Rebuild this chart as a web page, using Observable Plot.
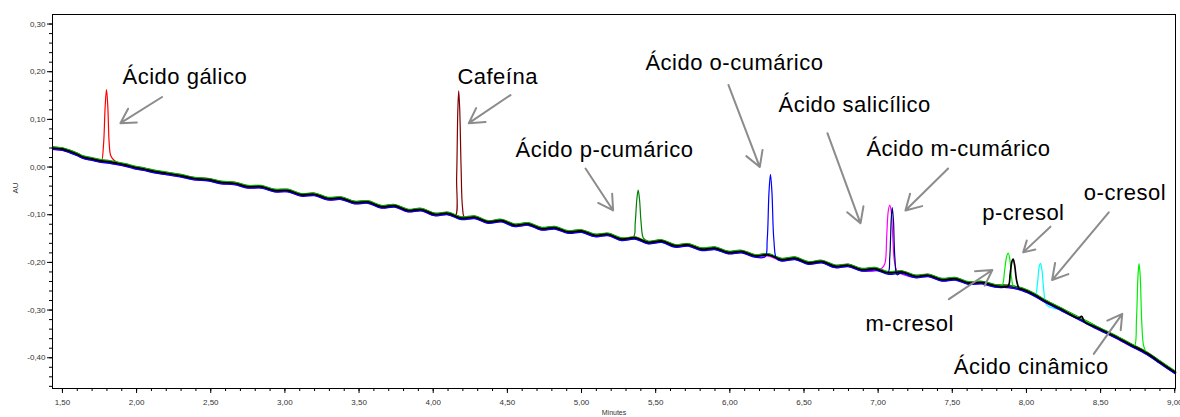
<!DOCTYPE html>
<html><head><meta charset="utf-8">
<script src="https://cdn.jsdelivr.net/npm/d3@7"></script>
<script src="https://cdn.jsdelivr.net/npm/@observablehq/plot@0.6"></script>
<style>body{margin:0;background:#fff;} svg{display:block}</style>
</head><body><div id="chart"></div>
<script>
// Shared drifting baseline (minutes, AU)
const baseT = [1.433,1.50,1.55,1.60,1.64,1.70,1.76,1.82,1.87,1.93,1.98,2.05,2.12,2.20,
  2.30,2.39,2.48,2.57,2.66,2.75,2.84,2.93,3.02,3.11,3.20,3.29,3.38,3.47,3.56,3.65,3.74,3.83,3.92,4.01,
  4.10,4.19,4.28,4.37,4.46,4.55,4.64,4.73,4.82,4.91,5.00,5.09,5.18,5.27,5.36,5.45,5.54,5.63,5.72,5.81,
  5.90,5.99,6.08,6.17,6.26,6.35,6.44,6.53,6.62,6.71,6.80,6.89,6.98,7.07,7.16,7.25,7.34,7.43,7.52,7.61,
  7.70,7.79,7.88,7.97,8.05,8.12,8.24,8.36,8.47,8.59,8.70,8.81,8.90,9.005];
const baseV = [0.040,0.038,0.033,0.027,0.021,0.017,0.013,0.011,0.008,0.004,0.000,-0.004,-0.009,-0.013,
  -0.018,-0.024,-0.026,-0.032,-0.034,-0.041,-0.041,-0.049,-0.049,-0.058,-0.057,-0.066,-0.065,-0.074,-0.073,-0.083,-0.081,-0.091,-0.089,-0.099,
  -0.097,-0.107,-0.105,-0.115,-0.112,-0.122,-0.119,-0.129,-0.127,-0.136,-0.134,-0.143,-0.141,-0.151,-0.148,-0.158,-0.155,-0.165,-0.163,-0.172,
  -0.170,-0.179,-0.177,-0.186,-0.184,-0.194,-0.191,-0.201,-0.198,-0.208,-0.206,-0.215,-0.213,-0.222,-0.220,-0.229,-0.227,-0.236,-0.234,-0.243,
  -0.242,-0.249,-0.250,-0.256,-0.267,-0.280,-0.299,-0.318,-0.336,-0.354,-0.372,-0.390,-0.409,-0.431];

// Peaks [minutes, AU]
const galicoPeak = [[1.765,0.012],[1.778,0.05],[1.788,0.125],[1.797,0.161],[1.806,0.125],[1.815,0.05],[1.826,0.022],[1.85,0.012],[1.878,0.007]];
const cafeinaPeak = [[4.148,-0.102],[4.158,-0.02],[4.166,0.12],[4.172,0.161],[4.179,0.12],[4.188,0.0],[4.198,-0.085],[4.212,-0.105]];
const pCumaricoPeak = [[5.35,-0.149],[5.362,-0.12],[5.373,-0.07],[5.382,-0.051],[5.391,-0.07],[5.402,-0.12],[5.418,-0.152]];
const oCumaricoPeak = [[6.238,-0.185],[6.252,-0.15],[6.264,-0.05],[6.274,-0.012],[6.284,-0.05],[6.297,-0.15],[6.315,-0.189]];
const salicilicoPeak = [[6.98,-0.215],[7.02,-0.211],[7.045,-0.200],[7.058,-0.14],[7.068,-0.09],[7.078,-0.077],[7.088,-0.09],[7.098,-0.14],[7.11,-0.195],[7.13,-0.217],[7.16,-0.222]];
const mCumaricoPeak = [[7.065,-0.221],[7.078,-0.19],[7.088,-0.11],[7.095,-0.084],[7.103,-0.11],[7.113,-0.19],[7.128,-0.225]];
const mCresolPeak = [[7.835,-0.249],[7.852,-0.22],[7.866,-0.19],[7.877,-0.182],[7.888,-0.195],[7.90,-0.235],[7.915,-0.253]];
const pCresolPeak = [[7.875,-0.250],[7.89,-0.225],[7.902,-0.198],[7.91,-0.193],[7.92,-0.205],[7.935,-0.24],[7.952,-0.255]];
const oCresolPeak = [[8.06,-0.269],[8.075,-0.24],[8.087,-0.205],[8.095,-0.200],[8.105,-0.215],[8.118,-0.26],[8.135,-0.287]];
const cinamicoPeak = [[8.728,-0.377],[8.742,-0.32],[8.752,-0.23],[8.759,-0.204],[8.767,-0.23],[8.778,-0.33],[8.79,-0.376],[8.81,-0.391]];
const smallBump = [[8.35,-0.317],[8.372,-0.313],[8.392,-0.325]];

// Annotations
const labelText = ["Ácido gálico","Cafeína","Ácido p-cumárico","Ácido o-cumárico","Ácido salicílico","Ácido m-cumárico","p-cresol","o-cresol","m-cresol","Ácido cinâmico"];
const labelT = [1.905, 4.163, 4.555, 5.431, 6.328, 6.921, 7.702, 8.387, 6.915, 7.510];
const labelV = [0.188, 0.188, 0.035, 0.218, 0.130, 0.037, -0.097, -0.054, -0.330, -0.419];
const arrowT1 = [2.172, 4.521, 5.027, 5.991, 6.658, 7.472, 8.162, 8.555, 7.477, 8.454];
const arrowV1 = [0.147, 0.151, -0.003, 0.172, 0.071, -0.003, -0.125, -0.095, -0.277, -0.392];
const arrowT2 = [1.891, 4.240, 5.213, 6.202, 6.881, 7.184, 7.978, 8.173, 7.770, 8.646];
const arrowV2 = [0.092, 0.092, -0.091, 0.000, -0.118, -0.091, -0.179, -0.237, -0.216, -0.308];

const xTicks = [1.5,2,2.5,3,3.5,4,4.5,5,5.5,6,6.5,7,7.5,8,8.5,9];
const yTicks = [-0.4,-0.3,-0.2,-0.1,0,0.1,0.2,0.3];
const xMinor = d3.range(15, 91).map(d => d / 10);
const yMinor = d3.range(-23, 16).map(d => d / 50);

const traces = [
  {color: "#ff0000", peaks: [galicoPeak], dy: -0.8, w: 1.2},
  {color: "#800000", peaks: [cafeinaPeak], dy: 0.6, w: 1.2},
  {color: "#008000", peaks: [pCumaricoPeak], dy: -1.2, w: 1.2},
  {color: "#00ffff", peaks: [oCresolPeak], dy: 1.0, w: 1.2},
  {color: "#ff00ff", peaks: [salicilicoPeak], dy: 1.3, w: 1.2},
  {color: "#00ee00", peaks: [mCresolPeak, cinamicoPeak], dy: -0.7, w: 1.2},
  {color: "#0000ff", peaks: [oCumaricoPeak], dy: 1.5, w: 1.2},
  {color: "#000080", peaks: [mCumaricoPeak], dy: 0.4, w: 1.2},
  {color: "#000000", peaks: [pCresolPeak, smallBump], dy: 0, w: 1.7}
];

function buildTrace(peaks) {
  const ranges = peaks.map(p => [p[0][0], p[p.length - 1][0]]);
  const pts = baseT.map((t, i) => [t, baseV[i]])
    .filter(([t]) => !ranges.some(([a, b]) => t >= a && t <= b));
  return pts.concat(...peaks).sort((a, b) => a[0] - b[0]);
}

const fmt = d => (Math.abs(d) < 1e-9 ? 0 : d).toFixed(2).replace(".", ",");
const labels = labelText.map((s, i) => ({s, t: labelT[i], v: labelV[i]}));
const arrows = arrowT1.map((t, i) => ({t1: t, v1: arrowV1[i], t2: arrowT2[i], v2: arrowV2[i]}));

const chart = Plot.plot({
  width: 1180, height: 417,
  marginLeft: 52, marginRight: 5, marginTop: 14, marginBottom: 29,
  x: {domain: [1.433, 9.005]},
  y: {domain: [-0.4645, 0.320]},
  style: {fontFamily: "'Liberation Sans', Arial, sans-serif", background: "#fff", color: "#000"},
  marks: [
    ...traces.map(tr => Plot.line(buildTrace(tr.peaks), {
      x: d => d[0], y: d => d[1], stroke: tr.color, strokeWidth: tr.w, dy: tr.dy, curve: "catmull-rom"
    })),
    Plot.axisY(yMinor, {tickSize: 3, tickFormat: () => "", label: null}),
    Plot.axisY(yTicks, {tickSize: 5, tickPadding: 2, tickFormat: fmt, fontSize: 8, label: null, fill: "#333"}),
    Plot.axisX(xMinor, {tickSize: 3, tickFormat: () => "", label: null}),
    Plot.axisX(xTicks, {tickSize: 5, tickPadding: 6, tickFormat: fmt, fontSize: 8, label: null, fill: "#333"}),
    Plot.frame({stroke: "#000", strokeWidth: 1}),
    Plot.arrow(arrows, {x1: "t1", y1: "v1", x2: "t2", y2: "v2", stroke: "#8c8c8c", strokeWidth: 2, headLength: 13, headAngle: 60}),
    Plot.text(labels, {x: "t", y: "v", text: "s", textAnchor: "start", fontSize: 22, fill: "#000"}),
    Plot.text(["Minutes"], {frameAnchor: "bottom", dy: 26, fontSize: 7, fill: "#333"}),
    Plot.text(["AU"], {frameAnchor: "left", dx: -37, dy: -8, rotate: -90, fontSize: 8, fill: "#333"})
  ]
});
chart.querySelectorAll('g[font-size="22"] text').forEach(e => e.setAttribute("letter-spacing", "0.5"));
document.getElementById("chart").appendChild(chart);
</script></body></html>
